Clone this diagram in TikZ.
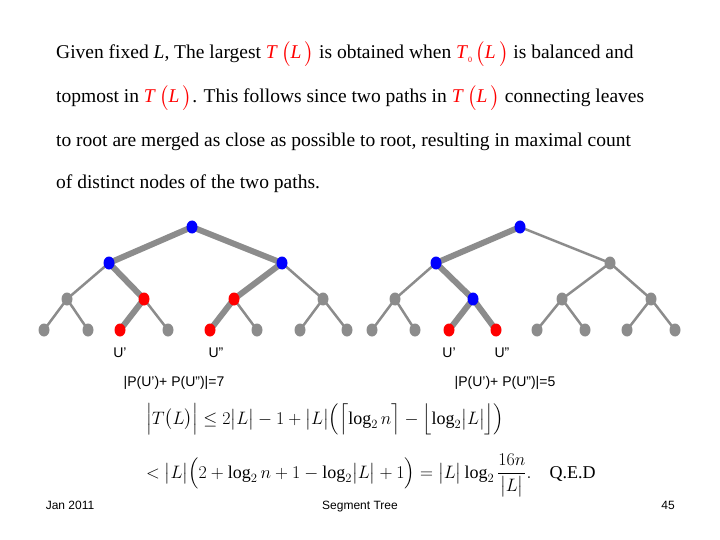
\RequirePackage{fix-cm}
\documentclass[tikz,border=0pt]{standalone}
\usepackage{amsmath}
\usepackage{fontspec}
\setmainfont{Liberation Serif}
\newfontfamily\arial{Liberation Sans}
\usetikzlibrary{shapes.geometric}
\begin{document}
\begin{tikzpicture}[x=1pt,y=-1pt,
  nd/.style={ellipse,minimum width=11pt,minimum height=13pt,inner sep=0pt},
  gn/.style={nd,fill=gray!90},
  bn/.style={nd,fill=blue},
  rn/.style={nd,fill=red},
  e/.style={draw=gray!90,line width=2.5pt},
  te/.style={draw=gray!90,line width=6pt},
  lab/.style={font=\arial\fontsize{14}{16}\selectfont,anchor=base},
  txt/.style={anchor=base west,inner sep=0pt,font=\fontsize{19.5}{22}\selectfont},
  fm/.style={anchor=base west,inner sep=0pt,font=\fontsize{18}{20}\selectfont},
  ft/.style={font=\arial\fontsize{12}{14}\selectfont,anchor=base}]
\useasboundingbox (0,0) rectangle (720,540);
\newcommand\RT{\textcolor{red}{\textit{T}\,\big(\textit{L}\,\big)}}
\node[txt] (t1) at (56,59) {Given fixed \textit{L}, The largest \RT\ is obtained when \textcolor{red}{\textit{T}\raisebox{-0.4ex}{\footnotesize 0}\,\big(\textit{L}\,\big)} is balanced and};
\node[txt] (t2) at (56,103) {topmost in \RT. This follows since two paths in \RT\ connecting leaves};
\node[txt] (t3) at (56,147) {to root are merged as close as possible to root, resulting in maximal count};
\node[txt] (t4) at (56,189) {of distinct nodes of the two paths.};
\foreach \n/\x/\y in {r/192/227, a/109/263, b/282/263, c/67/299, d/144/299, f/234/299, g/323/299,
  l1/44/330, l2/88/330, l3/120/330, l4/168/330, l5/210/330, l6/257/330, l7/300/330, l8/347/330,
  R/520/227, A/436/263, B/610/263, C/395/299, D/473/299, F/562/299, G/651/299,
  L1/372/330, L2/415/330, L3/449/330, L4/496/330, L5/537/330, L6/585/330, L7/627/330, L8/675/330}
  \coordinate (p\n) at (\x,\y);
\draw[te] (pr)--(pa) (pr)--(pb) (pa)--(pd) (pd)--(pl3) (pb)--(pf) (pf)--(pl5);
\draw[e] (pa)--(pc) (pb)--(pg) (pc)--(pl1) (pc)--(pl2) (pd)--(pl4) (pf)--(pl6) (pg)--(pl7) (pg)--(pl8);
\draw[te] (pR)--(pA) (pA)--(pD) (pD)--(pL3) (pD)--(pL4);
\draw[e] (pR)--(pB) (pA)--(pC) (pB)--(pF) (pB)--(pG) (pC)--(pL1) (pC)--(pL2) (pF)--(pL5) (pF)--(pL6) (pG)--(pL7) (pG)--(pL8);
\foreach \n in {r,a,b,R,A,D} \node[bn] (\n) at (p\n) {};
\foreach \n in {d,f,l3,l5,L3,L4} \node[rn] (\n) at (p\n) {};
\foreach \n in {c,g,l1,l2,l4,l6,l7,l8,C,B,F,G,L1,L2,L5,L6,L7,L8} \node[gn] (\n) at (p\n) {};
\node[lab] (u1) at (120,357) {U’};
\node[lab] (u2) at (216,357) {U”};
\node[lab] (u3) at (449,357) {U’};
\node[lab] (u4) at (502,357) {U”};
\node[lab] (s1) at (174,386) {|P(U’)+ P(U”)|=7};
\node[lab] (s2) at (505,386) {|P(U’)+ P(U”)|=5};
\node[fm] (f1) at (146,424)
 {$\Bigl|T\bigl(L\bigr)\Bigr|\le 2\bigl|L\bigr|-1+\bigl|L\bigr|\Bigl(\Bigl\lceil\log_2 n\Bigr\rceil-\Bigl\lfloor\log_2\bigl|L\bigr|\Bigr\rfloor\Bigr)$};
\node[fm] (f2) at (146,478)
 {$<\bigl|L\bigr|\Bigl(2+\log_2 n+1-\log_2\bigl|L\bigr|+1\Bigr)=\bigl|L\bigr|\log_2\dfrac{16n}{\bigl|L\bigr|}.$\quad Q.E.D};
\node[ft] (j) at (70,509) {Jan 2011};
\node[ft] (s) at (360,509) {Segment Tree};
\node[ft] (n) at (668,509) {45};
\end{tikzpicture}
\end{document}
